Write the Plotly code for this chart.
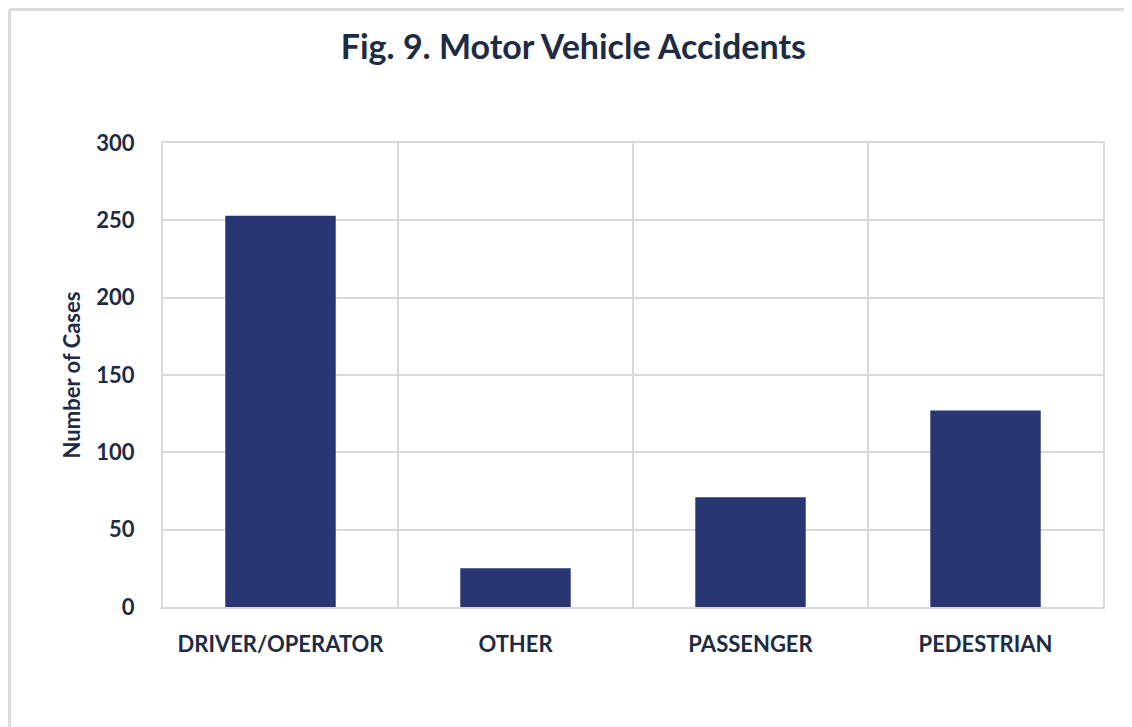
import plotly.graph_objects as go

categories = ["DRIVER/OPERATOR", "OTHER", "PASSENGER", "PEDESTRIAN"]
cases = [253, 25, 71, 127]

bar_color = "#283673"
text_color = "#1e2b44"
grid_color = "#d9d9d9"

# page has an 8px body margin, so the figure is a bit smaller than the window
W, H = 1124, 719
ml, mr, mt, mb = 155, 29, 135, 120

fig = go.Figure()

fig.add_trace(
    go.Bar(x=categories,
           y=cases,
           marker=dict(color=bar_color, line=dict(width=0)),
           width=0.47)
)

fig.update_layout(
    width=W,
    height=H,
    paper_bgcolor="white",
    plot_bgcolor="white",
    margin=dict(l=ml, r=mr, t=mt, b=mb),
    showlegend=False,
    font=dict(family="Lato, Open Sans, sans-serif", color=text_color),
    title=dict(text="<b>Fig. 9. Motor Vehicle Accidents</b>",
               x=0.503, xref="container", xanchor="center",
               y=1 - 39 / H, yref="container", yanchor="middle",
               font=dict(size=34, color=text_color)),
)

fig.update_xaxes(
    type="category",
    tickson="boundaries",
    showgrid=True,
    gridcolor=grid_color,
    gridwidth=2,
    showline=True,
    linecolor=grid_color,
    linewidth=2,
    mirror=True,
    ticks="",
    ticklabelstandoff=17,
    tickfont=dict(size=22, color=text_color, weight="bold"),
)

fig.update_yaxes(
    range=[0, 300],
    dtick=50,
    showgrid=True,
    gridcolor=grid_color,
    gridwidth=2,
    showline=True,
    linecolor=grid_color,
    linewidth=2,
    mirror=True,
    zeroline=False,
    ticks="",
    ticklabelstandoff=22,
    tickfont=dict(size=22, color=text_color, weight="bold"),
    title=dict(text="Number of Cases", standoff=10,
               font=dict(size=22, color=text_color, weight="bold")),
)

# light frame along the top and left edges of the picture
pw = W - ml - mr
ph = H - mt - mb
left_x = (1.5 - ml) / pw
top_y = 1 + (mt - 1.5) / ph
fig.add_shape(type="line", xref="paper", yref="paper",
              x0=left_x, x1=1 + mr / pw, y0=top_y, y1=top_y,
              line=dict(color="#dcdcdc", width=3))
fig.add_shape(type="line", xref="paper", yref="paper",
              x0=left_x, x1=left_x, y0=-mb / ph, y1=top_y,
              line=dict(color="#dcdcdc", width=3))

fig.write_html("out.html")
